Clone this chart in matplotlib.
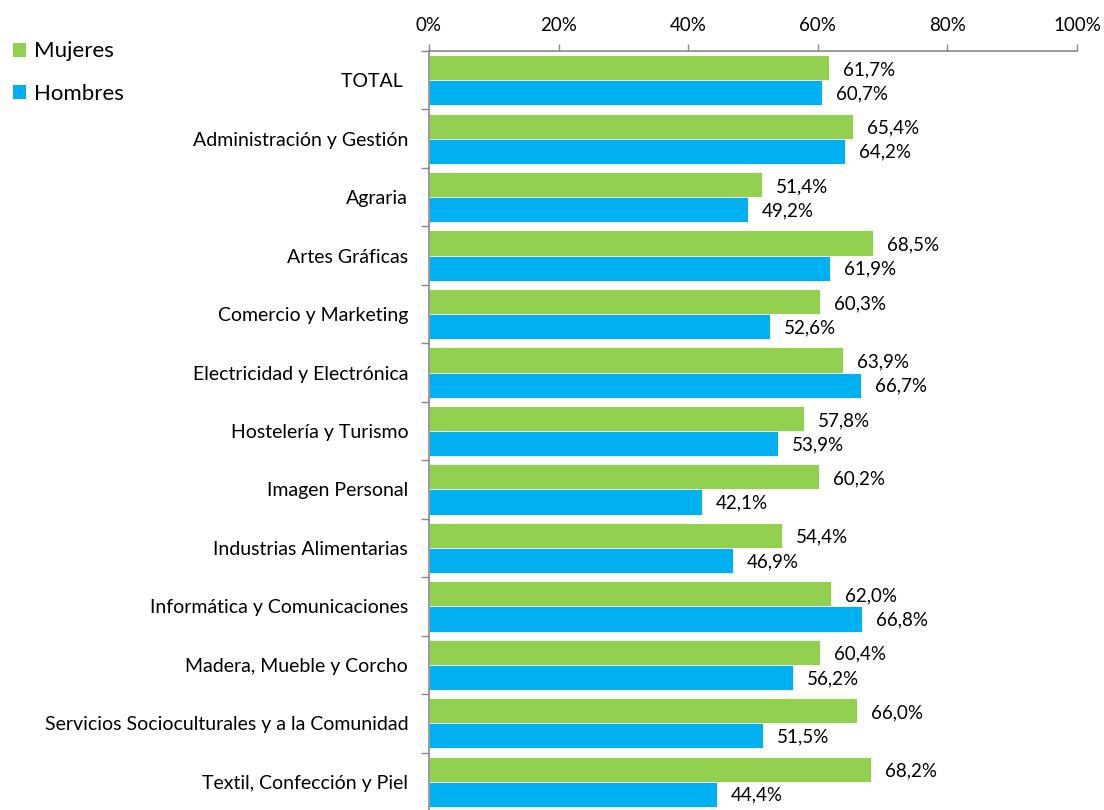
import matplotlib
matplotlib.use("Agg")
import matplotlib.pyplot as plt
import numpy as np
from matplotlib.patches import Patch
from matplotlib.ticker import FixedLocator, PercentFormatter

plt.rcParams['font.family'] = ['Lato', 'DejaVu Sans']

categories = ["TOTAL ", "Administración y Gestión", "Agraria", "Artes Gráficas",
              "Comercio y Marketing", "Electricidad y Electrónica", "Hostelería y Turismo",
              "Imagen Personal", "Industrias Alimentarias", "Informática y Comunicaciones",
              "Madera, Mueble y Corcho", "Servicios Socioculturales y a la Comunidad",
              "Textil, Confección y Piel"]
mujeres = [61.7, 65.4, 51.4, 68.5, 60.3, 63.9, 57.8, 60.2, 54.4, 62.0, 60.4, 66.0, 68.2]
hombres = [60.7, 64.2, 49.2, 61.9, 52.6, 66.7, 53.9, 42.1, 46.9, 66.8, 56.2, 51.5, 44.4]
series_names = ["Mujeres", "Hombres"]
colors = ["#92D050", "#00B0F0"]
xticks = [0, 20, 40, 60, 80, 100]

fig = plt.figure(figsize=(11.04, 8.10), dpi=100)
ax = fig.add_axes([429/1104, 1 - 811/810, (1077-429)/1104, (811-51)/810])

y = np.arange(len(categories))
h = 0.43
ax.barh(y - h/2, mujeres, height=h, color=colors[0], edgecolor="white", linewidth=0.6)
ax.barh(y + h/2, hombres, height=h, color=colors[1], edgecolor="white", linewidth=0.6)

fs_txt = 14
fs_num = 13.5
for yi, v in zip(y, mujeres):
    ax.annotate(f"{v:.1f}%".replace(".", ","), (v, yi - h/2), xytext=(14, -2),
                textcoords="offset pixels", va="center", ha="left", fontsize=fs_num)
for yi, v in zip(y, hombres):
    ax.annotate(f"{v:.1f}%".replace(".", ","), (v, yi + h/2), xytext=(14, -1),
                textcoords="offset pixels", va="center", ha="left", fontsize=fs_num)

ax.set_xlim(0, 100)
ax.set_ylim(len(categories) - 0.5, -0.5)
ax.set_yticks(y)
ax.set_yticklabels(categories, fontsize=fs_txt)
ax.yaxis.set_minor_locator(FixedLocator(np.arange(len(categories) + 1) - 0.5))
ax.tick_params(axis="y", which="major", length=0, pad=15)
ax.tick_params(axis="y", which="minor", length=6, color="#898989", width=1)

ax.xaxis.tick_top()
ax.set_xticks(xticks)
ax.xaxis.set_major_formatter(PercentFormatter(decimals=0))
ax.tick_params(axis="x", which="major", length=5, color="#898989", width=1, labelsize=fs_num, pad=7)

for s in ["right", "bottom"]:
    ax.spines[s].set_visible(False)
for s in ["left", "top"]:
    ax.spines[s].set_color("#898989")
    ax.spines[s].set_linewidth(1.2)

handles = [Patch(facecolor=c, edgecolor="none") for c in colors]
fig.legend(handles, series_names, loc="upper left", bbox_to_anchor=(-3/1104, 0.968),
           frameon=False, fontsize=16, handlelength=0.6, handleheight=0.6,
           handletextpad=0.35, labelspacing=1.0, borderaxespad=0.3)

fig.savefig("out.png", dpi=100)
